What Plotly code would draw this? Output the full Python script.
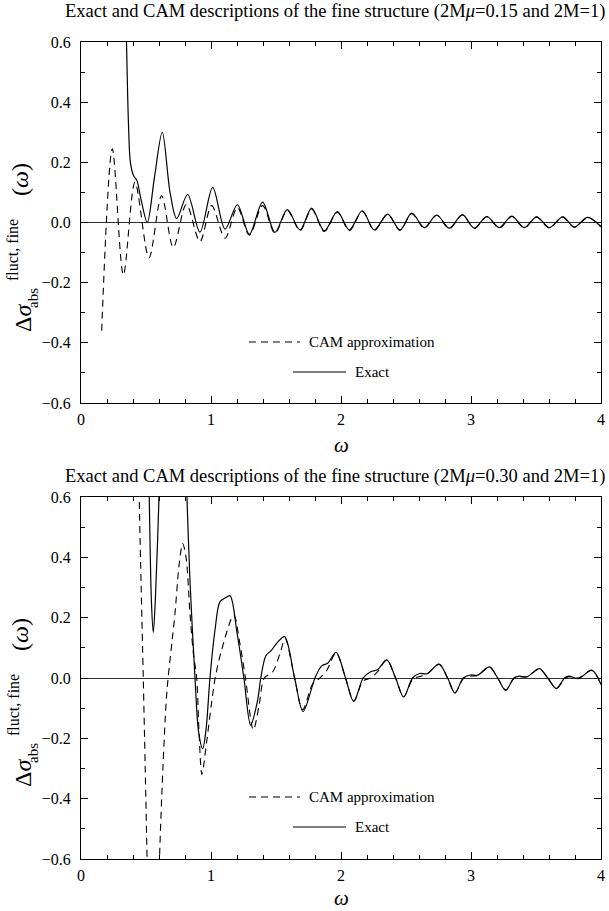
import plotly.graph_objects as go

# ---------------- data ----------------
top_exact_w = [0.335, 0.35, 0.365, 0.38, 0.405, 0.43, 0.46, 0.51, 0.565, 0.625, 0.685, 0.736, 0.82, 0.915,
               1.013, 1.108, 1.203, 1.295, 1.397, 1.492, 1.587, 1.685, 1.774, 1.872, 1.972, 2.064, 2.164,
               2.256, 2.359, 2.454, 2.544, 2.641, 2.736, 2.833, 2.934, 3.026, 3.121, 3.218, 3.313, 3.41,
               3.505, 3.603, 3.705, 3.795, 3.897, 4.0]
top_exact_v = [0.9, 0.6, 0.33, 0.2, 0.155, 0.14, 0.08, 0.0, 0.15, 0.30, 0.10, 0.013, 0.093, -0.032,
               0.117, -0.022, 0.059, -0.039, 0.068, -0.033, 0.043, -0.025, 0.048, -0.028, 0.036, -0.025, 0.039,
               -0.025, 0.028, -0.025, 0.031, -0.017, 0.025, -0.019, 0.026, -0.019, 0.020, -0.017, 0.021, -0.017,
               0.019, -0.017, 0.019, -0.015, 0.017, -0.014]

top_cam_w = [0.159, 0.241, 0.326, 0.415, 0.523, 0.62, 0.71, 0.81, 0.915, 1.005, 1.108, 1.203, 1.295,
             1.397, 1.492, 1.587, 1.685, 1.774, 1.872, 1.972, 2.064, 2.164, 2.256, 2.359, 2.454, 2.544,
             2.641, 2.736, 2.833, 2.934, 3.026, 3.121, 3.218, 3.313, 3.41, 3.505, 3.603, 3.705, 3.795,
             3.897, 4.0]
top_cam_v = [-0.36, 0.245, -0.174, 0.134, -0.117, 0.089, -0.083, 0.06, -0.063, 0.056, -0.052, 0.05, -0.042,
             0.056, -0.036, 0.04, -0.027, 0.044, -0.03, 0.034, -0.027, 0.037, -0.026, 0.027, -0.026, 0.029,
             -0.019, 0.024, -0.02, 0.025, -0.02, 0.019, -0.018, 0.02, -0.018, 0.018, -0.018, 0.018, -0.016,
             0.016, -0.014]

bot_exact_w = [0.505, 0.525, 0.542, 0.556, 0.572, 0.60, 0.625, 0.70, 0.79, 0.815, 0.838, 0.877, 0.905,
               0.936, 0.962, 0.992, 1.031, 1.069, 1.108, 1.146, 1.20, 1.253, 1.305, 1.357, 1.383, 1.422,
               1.461, 1.513, 1.566, 1.643, 1.708, 1.80, 1.851, 1.90, 1.962, 2.035, 2.098, 2.17, 2.228,
               2.28, 2.352, 2.42, 2.482, 2.55, 2.605, 2.66, 2.755, 2.82, 2.877, 2.94, 2.995, 3.05, 3.142,
               3.205, 3.267, 3.33, 3.372, 3.43, 3.527, 3.59, 3.657, 3.72, 3.753, 3.826, 3.93, 4.0]
bot_exact_v = [1.2, 0.6, 0.25, 0.151, 0.26, 0.6, 1.0, 1.4, 0.95, 0.6, 0.325, 0.0, -0.18,
               -0.234, -0.17, 0.0, 0.16, 0.253, 0.265, 0.273, 0.15, 0.0, -0.156, -0.077, 0.0, 0.074,
               0.09, 0.119, 0.137, 0.0, -0.111, 0.0, 0.04, 0.05, 0.085, 0.0, -0.078, 0.0, 0.021,
               0.027, 0.06, 0.0, -0.063, 0.0, 0.015, 0.014, 0.046, 0.0, -0.05, 0.0, 0.01, 0.009, 0.037,
               0.0, -0.041, 0.0, 0.006, 0.004, 0.031, 0.0, -0.035, 0.0, 0.006, -0.002, 0.026, -0.022]

bot_cam_w = [0.43, 0.448, 0.463, 0.479, 0.494, 0.508, 0.525, 0.58, 0.604, 0.63, 0.655, 0.67, 0.70, 0.723,
             0.756, 0.782, 0.808, 0.838, 0.864, 0.89, 0.908, 0.93, 0.967, 1.006, 1.032, 1.08, 1.175, 1.22,
             1.265, 1.326, 1.37, 1.41, 1.474, 1.53, 1.57, 1.643, 1.705, 1.782, 1.838, 1.89, 1.962, 2.035,
             2.098, 2.17, 2.228, 2.28, 2.352, 2.42, 2.482, 2.55, 2.605, 2.66, 2.755, 2.82, 2.877, 2.94,
             2.995, 3.05, 3.142, 3.205, 3.267, 3.33, 3.372, 3.43, 3.527, 3.59, 3.657, 3.72, 3.753, 3.826,
             3.93, 4.0]
bot_cam_v = [1.3, 0.6, 0.3, 0.0, -0.3, -0.6, -1.1, -1.1, -0.6, -0.3, -0.08, 0.0, 0.12, 0.214,
             0.38, 0.446, 0.40, 0.215, 0.083, 0.0, -0.18, -0.32, -0.21, -0.077, 0.0, 0.09, 0.208, 0.12,
             0.0, -0.172, -0.09, 0.0, 0.02, 0.08, 0.13, 0.0, -0.105, -0.02, 0.0, 0.025, 0.083, 0.0,
             -0.076, -0.01, 0.0, 0.02, 0.059, 0.0, -0.062, -0.005, 0.005, 0.012, 0.045, 0.0, -0.049, -0.003,
             0.006, 0.008, 0.036, 0.0, -0.04, -0.002, 0.003, 0.004, 0.03, 0.0, -0.034, -0.003, 0.004, 0.0,
             0.025, -0.022]

titles = ["Exact and CAM descriptions of the fine structure (2M<i>μ</i>=0.15 and 2M=1)",
          "Exact and CAM descriptions of the fine structure (2M<i>μ</i>=0.30 and 2M=1)"]
legend_labels = ["CAM approximation", "Exact"]

# ---------------- layout helpers (pixel -> paper) ----------------
W, H = 609, 911
ML, MR, MT, MB = 81, 8, 42, 52
PW, PH = W - ML - MR, H - MT - MB


def px(x):
    return (x - ML) / PW


def py(y):
    return (H - MB - y) / PH


FONT = "Liberation Serif"

fig = go.Figure()
panels = [(top_exact_w, top_exact_v, top_cam_w, top_cam_v, "x", "y"),
          (bot_exact_w, bot_exact_v, bot_cam_w, bot_cam_v, "x2", "y2")]
for ew, ev, cw, cv, xa, ya in panels:
    fig.add_trace(go.Scatter(x=cw, y=cv, mode="lines", xaxis=xa, yaxis=ya, showlegend=False,
                             line=dict(color="black", width=1.1, dash="7px,5px", shape="spline", smoothing=0.9)))
    fig.add_trace(go.Scatter(x=ew, y=ev, mode="lines", xaxis=xa, yaxis=ya, showlegend=False,
                             line=dict(color="black", width=1.2, shape="spline", smoothing=0.9)))

axis_common = dict(showline=True, linecolor="black", linewidth=1, mirror="allticks", ticks="inside",
                   showgrid=False, tickfont=dict(family=FONT, size=16, color="black"), tickcolor="black",
                   ticklabeloverflow="allow")
xcommon = dict(axis_common, range=[0, 4], dtick=1, tick0=0, ticklen=7,
               minor=dict(dtick=0.2, ticklen=4, ticks="inside", tickcolor="black", showgrid=False),
               zeroline=False, ticklabelstandoff=2)
ycommon = dict(axis_common, range=[-0.6, 0.6], dtick=0.2, tick0=0, ticklen=7, tickformat=".1f",
               minor=dict(dtick=0.1, ticklen=4, ticks="inside", tickcolor="black", showgrid=False),
               zeroline=True, zerolinecolor="#333", zerolinewidth=1.4, ticklabelstandoff=6)

top_y0, top_y1 = py(403), py(42)
bot_y0, bot_y1 = py(859), py(497)

fig.update_layout(
    width=W, height=H, paper_bgcolor="white", plot_bgcolor="white",
    margin=dict(l=ML, r=MR, t=MT, b=MB, autoexpand=False),
    xaxis=dict(xcommon, domain=[0, 1], anchor="y"),
    yaxis=dict(ycommon, domain=[top_y0, top_y1], anchor="x"),
    xaxis2=dict(xcommon, domain=[0, 1], anchor="y2"),
    yaxis2=dict(ycommon, domain=[bot_y0, bot_y1], anchor="x2"),
    showlegend=False,
)

ann = []
shapes = []
for i, off in enumerate([0, 455]):
    # title
    ann.append(dict(text=titles[i], x=px(335), y=py(12 + off + (10 if i else 0)), xref="paper", yref="paper",
                    showarrow=False, font=dict(family=FONT, size=18.5, color="black"), xanchor="center",
                    yanchor="middle"))
    # x title
    ann.append(dict(text="<i>ω</i>", x=px(341), y=py(445 + off - (2 if i else 0)), xref="paper", yref="paper",
                    showarrow=False, font=dict(family=FONT, size=21, color="black"), xanchor="center",
                    yanchor="middle"))
    # y title pieces (rotated)
    ann.append(dict(text="Δ<i>σ</i>", x=px(23), y=py(318 + off), xref="paper", yref="paper", showarrow=False,
                    textangle=-90, font=dict(family=FONT, size=24, color="black"),
                    xanchor="center", yanchor="middle"))
    ann.append(dict(text="abs", x=px(33), y=py(298 + off), xref="paper", yref="paper", showarrow=False,
                    textangle=-90, font=dict(family=FONT, size=15, color="black"),
                    xanchor="center", yanchor="middle"))
    ann.append(dict(text="fluct, fine", x=px(13), y=py(250 + off), xref="paper", yref="paper", showarrow=False,
                    textangle=-90, font=dict(family=FONT, size=16, color="black"),
                    xanchor="center", yanchor="middle"))
    ann.append(dict(text="(<i>ω</i>)", x=px(20), y=py(180 + off), xref="paper", yref="paper", showarrow=False,
                    textangle=-90, font=dict(family=FONT, size=24, color="black"),
                    xanchor="center", yanchor="middle"))
    # legend
    yc = 342 + off
    ye = 372 + off
    shapes.append(dict(type="line", xref="paper", yref="paper", x0=px(249), x1=px(300), y0=py(yc), y1=py(yc),
                       line=dict(color="black", width=1.1, dash="7px,5px")))
    shapes.append(dict(type="line", xref="paper", yref="paper", x0=px(293), x1=px(346), y0=py(ye), y1=py(ye),
                       line=dict(color="black", width=1.2)))
    ann.append(dict(text=legend_labels[0], x=px(307), y=py(yc), xref="paper", yref="paper", showarrow=False,
                    font=dict(family=FONT, size=15, color="black"), xanchor="left", yanchor="middle"))
    ann.append(dict(text=legend_labels[1], x=px(353), y=py(ye), xref="paper", yref="paper", showarrow=False,
                    font=dict(family=FONT, size=15, color="black"), xanchor="left", yanchor="middle"))

fig.update_layout(annotations=ann, shapes=shapes)
fig.write_html("out.html", config={"displayModeBar": False},
               post_script="document.body.style.margin='0px';document.body.style.overflow='hidden';")
